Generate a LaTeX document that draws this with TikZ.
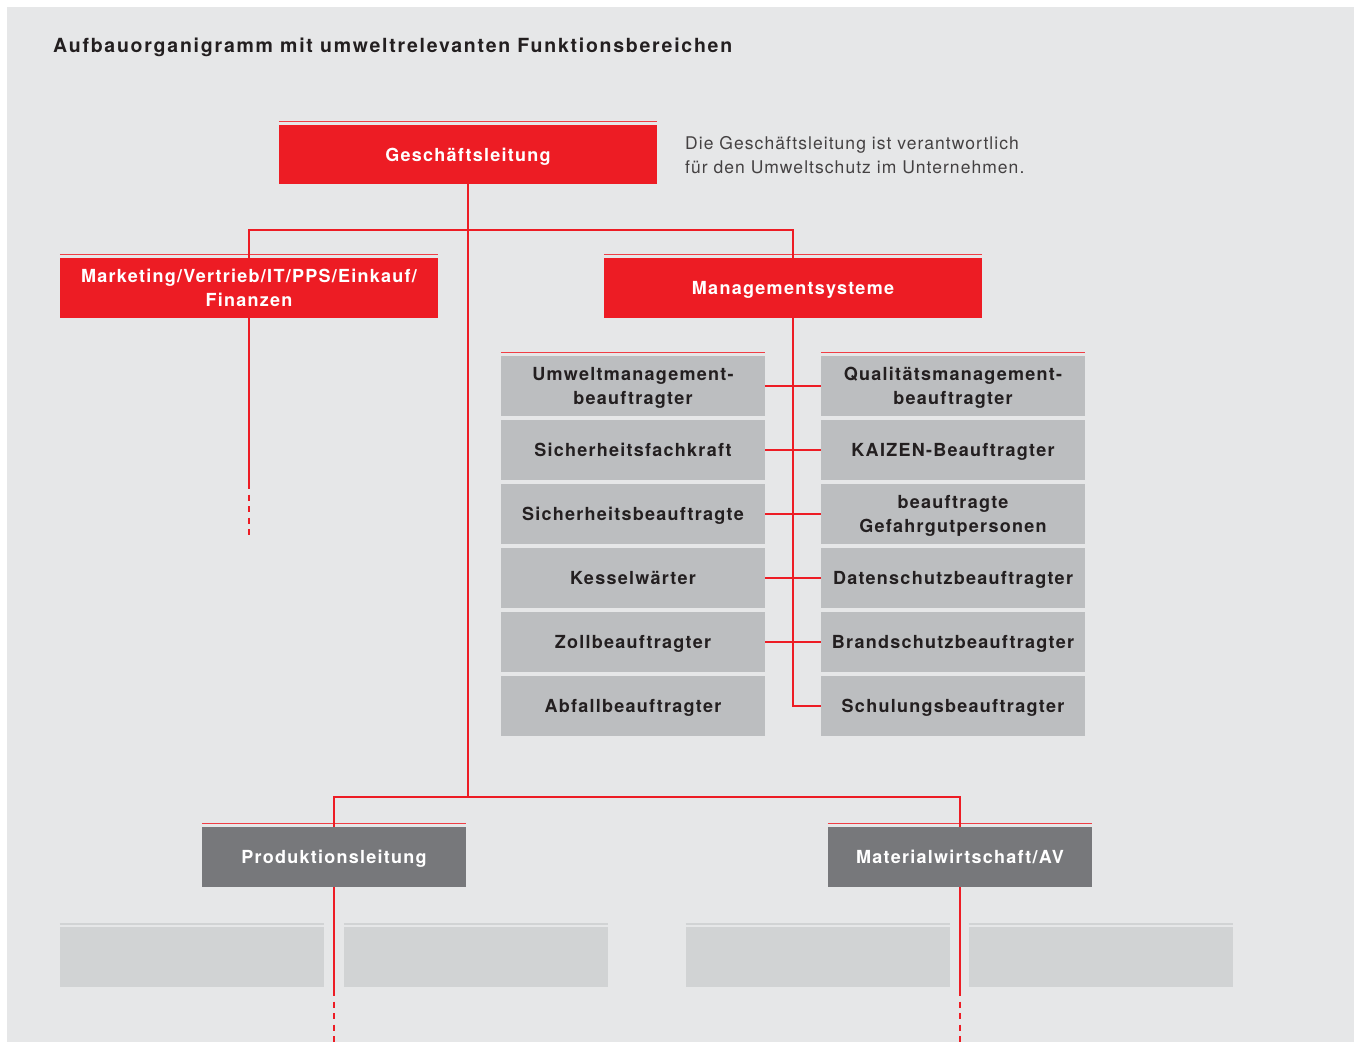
\documentclass[tikz,border=0pt]{standalone}
\usepackage{fontspec}
\setmainfont{TeX Gyre Heros}
\newfontfamily\orgfont{TeX Gyre Heros}[LetterSpace=7]
\newfontfamily\notefont{TeX Gyre Heros}[LetterSpace=6]
\newfontfamily\titlefont{TeX Gyre Heros}[LetterSpace=9]
\usetikzlibrary{positioning}
\definecolor{orgred}{HTML}{ED1C24}
\definecolor{orggrey}{HTML}{BCBEC0}
\definecolor{orgdark}{HTML}{77787B}
\definecolor{orglight}{HTML}{D1D3D4}
\definecolor{orgback}{HTML}{E6E7E8}
\definecolor{orgtext}{HTML}{231F20}

\begin{document}
\begin{tikzpicture}[x=1pt, y=-1pt,
    box/.style={rectangle, inner sep=0pt, align=center, text depth=0pt,
        font=\orgfont\fontsize{18}{24}\selectfont\bfseries},
    redbox/.style={box, fill=orgred, text=white, minimum width=378pt, minimum height=60pt},
    darkbox/.style={box, fill=orgdark, text=white, minimum width=264pt, minimum height=60pt},
    greybox/.style={box, fill=orggrey, text=orgtext, minimum width=264pt, minimum height=60pt},
    emptybox/.style={box, fill=orglight, minimum width=264pt, minimum height=60pt},
    link/.style={draw=orgred, line width=1.3pt},
    openlink/.style={link, dash pattern=on 6pt off 5.5pt},
    topline/.style={draw=orgred!85!white, line width=1.4pt},
    greyline/.style={draw=orglight, line width=1.5pt}]
    \useasboundingbox (0,0) rectangle (1354,1042);
    \fill[orgback] (7,7) rectangle (1354,1042);

    \node[anchor=base west, inner sep=0pt, text=orgtext,
        font=\titlefont\fontsize{19.5}{23}\selectfont\bfseries] (title) at (53,52)
        {Aufbauorganigramm mit umweltrelevanten Funktionsbereichen};

    % top level
    \node[redbox, minimum height=59pt] (gl) at (468,154.5) {Geschäftsleitung};
    \node[anchor=west, inner sep=0pt, align=left, text=orgtext!85,
        font=\notefont\fontsize{17.5}{24}\selectfont] (note) at (685,155)
        {Die Geschäftsleitung ist verantwortlich\\für den Umweltschutz im Unternehmen.};

    \node[redbox] (mv) at (249,288) {Marketing/Vertrieb/IT/PPS/Einkauf/\\Finanzen};
    \node[redbox] (ms) at (793,288) {Managementsysteme};

    % beauftragte
    \foreach \txt [count=\i] in {{Umweltmanagement-\\beauftragter}, Sicherheitsfachkraft,
        Sicherheitsbeauftragte, Kesselwärter, Zollbeauftragter, Abfallbeauftragter}
        \node[greybox] (l\i) at (633,322+64*\i) {\txt};
    \foreach \txt [count=\i] in {{Qualitätsmanagement-\\beauftragter}, KAIZEN-Beauftragter,
        {beauftragte\\Gefahrgutpersonen}, Datenschutzbeauftragter,
        Brandschutzbeauftragter, Schulungsbeauftragter}
        \node[greybox] (r\i) at (953,322+64*\i) {\txt};

    \node[darkbox] (pl) at (334,857) {Produktionsleitung};
    \node[darkbox] (mw) at (960,857) {Materialwirtschaft/AV};

    \node[emptybox] (e1) at (192,957) {};
    \node[emptybox] (e2) at (476,957) {};
    \node[emptybox] (e3) at (818,957) {};
    \node[emptybox] (e4) at (1101,957) {};

    \foreach \n in {gl,mv,ms,l1,r1,pl,mw}
        \draw[topline] ([yshift=3.5pt]\n.north west) -- ([yshift=3.5pt]\n.north east);
    \foreach \n in {e1,e2,e3,e4}
        \draw[greyline] ([yshift=3pt]\n.north west) -- ([yshift=3pt]\n.north east);

    % connectors
    \coordinate (j1) at (468,230);
    \coordinate (j2) at (468,797);
    \coordinate (mv1) at (249,483);
    \coordinate (mv2) at (249,540);
    \coordinate (pl1) at (334,990);
    \coordinate (pl2) at (334,1042);
    \coordinate (mw1) at (960,990);
    \coordinate (mw2) at (960,1042);

    \draw[link] (gl.south) -- (j2);
    \draw[link] (mv.north) |- (j1) -| (ms.north);
    \draw[link] (pl.north) |- (j2) -| (mw.north);
    \draw[link] (ms.south) |- (r6.west);
    \foreach \i in {1,...,5}
        \draw[link] (l\i.east) -- (r\i.west);
    \draw[link] (mv.south) -- (mv1);
    \draw[openlink] (mv1) -- (mv2);
    \draw[link] (pl.south) -- (pl1);
    \draw[openlink] (pl1) -- (pl2);
    \draw[link] (mw.south) -- (mw1);
    \draw[openlink] (mw1) -- (mw2);
\end{tikzpicture}
\end{document}
